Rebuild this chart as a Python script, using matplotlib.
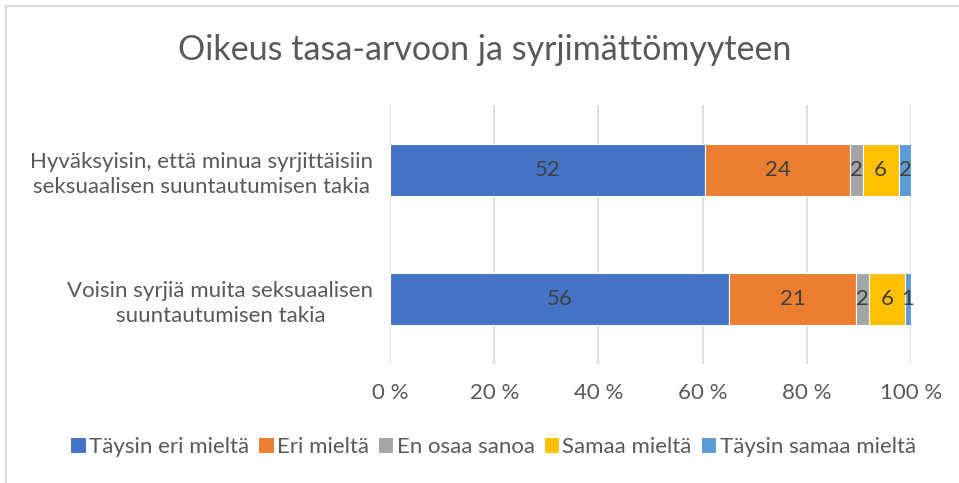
import matplotlib
matplotlib.use("Agg")
import matplotlib.pyplot as plt
import numpy as np
from matplotlib.patches import Rectangle

categories = ["Hyväksyisin, että minua syrjittäisiin\nseksuaalisen suuntautumisen takia",
              "Voisin syrjiä muita seksuaalisen\nsuuntautumisen takia"]
series = ["Täysin eri mieltä", "Eri mieltä", "En osaa sanoa", "Samaa mieltä", "Täysin samaa mieltä"]
values = {
    "Täysin eri mieltä": [52, 56],
    "Eri mieltä": [24, 21],
    "En osaa sanoa": [2, 2],
    "Samaa mieltä": [6, 6],
    "Täysin samaa mieltä": [2, 1],
}
colors = ["#4472C4", "#ED7D31", "#A5A5A5", "#FFC000", "#5B9BD5"]
xticks = [0, 20, 40, 60, 80, 100]
xticklabels = ["0 %", "20 %", "40 %", "60 %", "80 %", "100 %"]
title = "Oikeus tasa-arvoon ja syrjimättömyyteen"

plt.rcParams['font.family'] = ['Lato', 'DejaVu Sans']
txt = "#595959"

fig = plt.figure(figsize=(9.59, 4.83), dpi=100)
ax = fig.add_axes([390/959, 1-364/483, 521/959, 259/483])

# chart border
fig.patches.append(Rectangle((6/959, -0.1), 2.0, (483-6)/483 + 0.1, transform=fig.transFigure,
                             fill=False, edgecolor="#D9D9D9", linewidth=1.5))

y = np.arange(len(categories))
totals = np.sum([values[s] for s in series], axis=0)
left = np.zeros(len(categories))
for s, c in zip(series, colors):
    v = np.array(values[s], dtype=float)
    pct = v / totals * 100
    ax.barh(y, pct, left=left, height=0.4, color=c, edgecolor="white", linewidth=0.8, label=s, zorder=3)
    for yi, (l, p, val) in enumerate(zip(left, pct, v)):
        ax.text(l + p/2, yi, f"{int(val)}", ha="center", va="center", fontsize=16, color="#404040", zorder=4)
    left += pct

ax.set_xlim(0, 100)
ax.set_ylim(len(categories)-0.5, -0.5)
ax.set_xticks(xticks)
ax.set_xticklabels(xticklabels, fontsize=16, color=txt)
ax.set_yticks(y)
ax.set_yticklabels(categories, fontsize=16, color=txt)
for t in ax.get_yticklabels():
    t.set_multialignment("center")
    t.set_linespacing(1.3)
ax.tick_params(axis="both", length=0)
ax.tick_params(axis="x", pad=14)
ax.tick_params(axis="y", pad=12)
ax.grid(axis="x", color="#D9D9D9", linewidth=1.2, zorder=0)
for sp in ax.spines.values():
    sp.set_visible(False)

fig.text(0.505, 1-50/483, title, ha="center", va="center", fontsize=24.5, color=txt)

leg = fig.legend(loc="center", bbox_to_anchor=(0.514, 1-447/483), ncol=5, frameon=False,
                 fontsize=16, handlelength=0.7, handleheight=0.7, handletextpad=0.15,
                 columnspacing=0.4, labelcolor=txt)

fig.savefig("out.png", dpi=100)
